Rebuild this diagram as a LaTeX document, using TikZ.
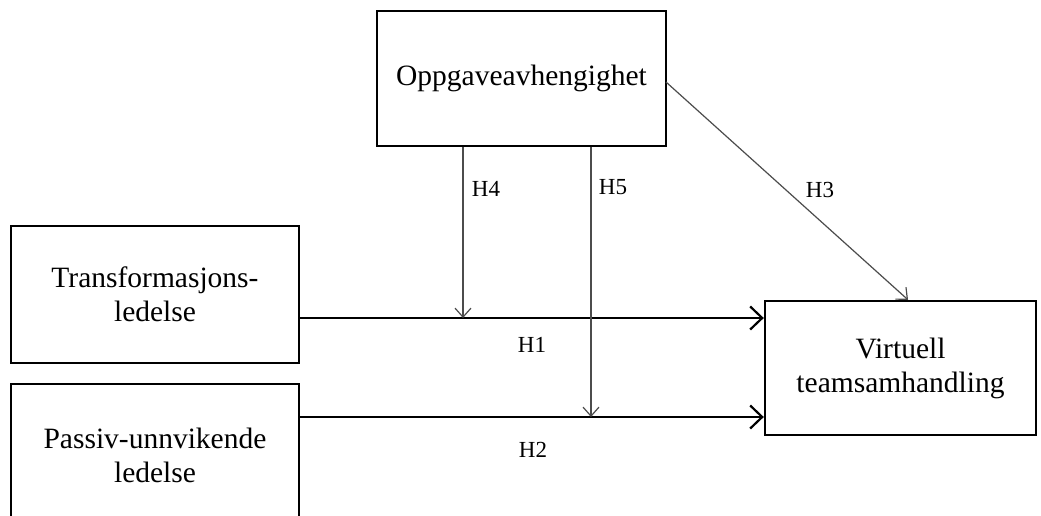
\documentclass[tikz,border=0pt]{standalone}
\usepackage{fontspec}
\setmainfont{Liberation Serif}
\usetikzlibrary{arrows.meta}
\begin{document}
\begin{tikzpicture}[x=1pt,y=-1pt,
  box/.style={draw=black,line width=2.4pt,rectangle,inner sep=0pt,align=center,
    font=\fontsize{29.5}{34}\selectfont},
  mainarrow/.style={line width=2.2pt,-{Straight Barb[length=12pt,width=23pt,line width=2.2pt]}},
  modarrow/.style={draw=black!70,line width=1.2pt,-{Straight Barb[length=9pt,width=16pt,line width=1.2pt]}},
  lbl/.style={font=\fontsize{23}{26}\selectfont,inner sep=0pt}]
\useasboundingbox (0,0) rectangle (1041,515);
\node[box,minimum width=289pt,minimum height=135pt] (top) at (521.5,78.5) {Oppgaveavhengighet};
\node[box,minimum width=288pt,minimum height=137pt] (tl) at (155,294.5) {Transformasjons-\\ledelse};
\node[box,minimum width=288pt,minimum height=142pt] (pu) at (155,455) {Passiv-unnvikende\\ledelse};
\node[box,minimum width=271pt,minimum height=134pt] (vt) at (900.5,368) {Virtuell\\teamsamhandling};
\coordinate (y1) at (0,318);
\coordinate (y2) at (0,417);
\coordinate (x4) at (463,0);
\coordinate (x5) at (591,0);
\coordinate (h3s) at (666,82);
\coordinate (h3e) at (908,0);
\draw[mainarrow] (tl.east |- y1) -- (vt.west |- y1);
\draw[mainarrow] (pu.east |- y2) -- (vt.west |- y2);
\draw[modarrow] (x4 |- top.south) -- (x4 |- y1);
\draw[modarrow] (x5 |- top.south) -- (x5 |- y2);
\draw[modarrow] (h3s) -- (h3e |- vt.north);
\node[lbl] (l1) at (532,345) {H1};
\node[lbl] (l2) at (533,450) {H2};
\node[lbl] (l3) at (820,190) {H3};
\node[lbl] (l4) at (486,189) {H4};
\node[lbl] (l5) at (613,187) {H5};
\end{tikzpicture}
\end{document}
